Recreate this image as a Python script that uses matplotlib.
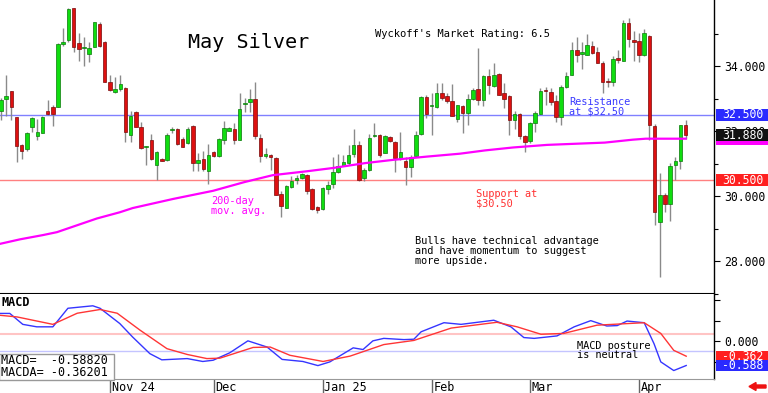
import matplotlib
matplotlib.use('Agg')
import matplotlib.pyplot as plt
import matplotlib.transforms as mtransforms
from matplotlib.patches import Rectangle, FancyArrow

plt.rcParams['font.family'] = ['DejaVu Sans Mono', 'DejaVu Sans']

# ---------------- data ----------------
opens = [32.62, 33.00, 33.22, 32.45, 31.57, 31.44, 32.12, 31.86, 31.95, 32.62,
         32.74, 32.75, 34.69, 34.81, 35.78, 34.71, 34.55, 34.38, 34.60, 35.30,
         34.75, 33.52, 33.19, 33.29, 33.34, 31.87, 32.59, 32.14, 31.50, 31.72,
         30.97, 31.16, 31.12, 32.03, 32.07, 31.75, 31.64, 32.17, 31.02, 31.15,
         30.77, 31.37, 31.25, 31.74, 32.02, 32.06, 31.74, 32.84, 32.89, 32.99,
         31.79, 31.25, 31.28, 31.19, 30.08, 29.65, 30.30, 30.50, 30.56, 30.67,
         30.22, 29.66, 29.62, 30.24, 30.37, 30.74, 30.94, 31.02, 31.31, 31.59,
         30.57, 30.82, 31.86, 31.87, 31.34, 31.82, 31.67, 31.15, 31.09, 30.90,
         31.24, 31.90, 33.04, 32.77, 32.74, 33.17, 33.07, 32.94, 32.39, 32.77,
         32.57, 32.99, 33.30, 32.97, 33.71, 33.39, 33.77, 33.17, 33.07, 32.34,
         32.52, 31.84, 31.69, 32.24, 32.54, 33.26, 33.19, 32.92, 32.45, 33.35,
         33.72, 34.50, 34.38, 34.35, 34.61, 34.43, 34.11, 33.54, 33.52, 34.25,
         34.17, 35.31, 34.81, 34.78, 34.35, 34.93, 32.17, 29.21, 30.05, 29.76,
         30.97, 31.09, 32.19]
highs = [33.02, 33.74, 33.24, 32.45, 31.60, 31.97, 32.44, 32.37, 32.48, 32.97,
         32.82, 34.70, 35.18, 35.78, 35.79, 35.03, 34.90, 34.75, 35.36, 35.36,
         34.76, 33.72, 33.67, 33.74, 33.35, 32.62, 32.62, 32.27, 31.55, 31.92,
         31.38, 31.19, 31.94, 32.12, 32.09, 31.82, 32.12, 32.18, 31.32, 31.40,
         31.60, 31.40, 31.78, 32.30, 32.14, 32.24, 33.17, 33.02, 33.30, 33.50,
         31.91, 31.47, 31.31, 31.22, 30.17, 30.35, 30.62, 30.65, 30.72, 30.68,
         30.27, 29.71, 30.30, 30.47, 31.22, 31.31, 31.28, 31.57, 32.07, 31.70,
         30.87, 31.91, 32.24, 31.91, 31.87, 31.84, 31.69, 31.97, 31.22, 31.27,
         32.02, 33.07, 33.12, 33.17, 33.47, 33.47, 33.17, 33.44, 32.82, 32.82,
         33.14, 33.32, 34.55, 33.72, 33.92, 34.08, 33.80, 33.47, 33.10, 32.62,
         32.57, 31.87, 32.27, 32.62, 33.32, 33.37, 33.32, 33.12, 33.42, 33.83,
         34.73, 34.88, 34.73, 34.98, 34.78, 34.58, 34.17, 33.62, 34.32, 34.48,
         35.41, 35.48, 35.08, 35.03, 35.15, 34.95, 32.22, 30.72, 30.11, 31.02,
         31.22, 32.20, 32.34]
lows = [32.33, 32.48, 32.33, 31.04, 31.14, 31.40, 31.99, 31.72, 31.93, 32.50,
        32.17, 32.73, 34.63, 34.75, 34.43, 34.17, 33.99, 34.13, 34.60, 34.58,
        33.50, 33.24, 33.17, 33.22, 31.67, 31.67, 32.12, 31.46, 30.97, 31.12,
        30.49, 31.07, 31.10, 31.94, 31.58, 31.50, 31.62, 30.77, 30.77, 30.77,
        30.37, 31.22, 31.22, 31.62, 32.01, 31.62, 31.74, 32.59, 32.59, 31.76,
        31.04, 31.17, 30.80, 30.03, 29.38, 29.64, 30.27, 30.39, 30.52, 30.08,
        29.59, 29.50, 29.59, 30.08, 30.27, 30.71, 30.92, 30.97, 31.22, 30.47,
        30.47, 30.77, 31.82, 31.22, 31.32, 31.67, 30.75, 31.12, 30.34, 30.59,
        31.22, 31.89, 32.42, 31.87, 32.72, 32.97, 32.87, 32.46, 32.29, 31.94,
        32.19, 32.97, 32.79, 32.77, 33.15, 33.37, 33.10, 32.70, 31.87, 32.07,
        31.77, 31.37, 31.64, 31.97, 32.52, 32.82, 32.82, 32.27, 32.20, 33.32,
        33.72, 34.13, 33.92, 34.33, 34.38, 34.08, 33.17, 33.37, 33.40, 34.08,
        34.17, 34.58, 34.17, 34.13, 34.31, 31.72, 29.11, 27.51, 29.51, 29.23,
        30.49, 30.84, 31.77]
closes = [32.97, 33.07, 32.74, 31.54, 31.39, 31.94, 32.40, 31.99, 32.45, 32.52,
          32.54, 34.68, 34.73, 35.76, 34.60, 34.53, 34.58, 34.55, 35.36, 34.61,
          33.52, 33.27, 33.30, 33.44, 31.97, 32.47, 32.14, 31.47, 31.54, 31.14,
          31.37, 31.09, 31.89, 32.07, 31.60, 31.52, 32.07, 31.02, 31.12, 30.84,
          31.27, 31.25, 31.77, 32.09, 32.09, 31.74, 32.69, 32.87, 32.99, 31.84,
          31.25, 31.28, 31.22, 30.05, 29.69, 30.32, 30.47, 30.57, 30.69, 30.17,
          29.62, 29.58, 30.27, 30.34, 30.74, 30.94, 31.04, 31.27, 31.57, 30.50,
          30.82, 31.79, 31.89, 31.28, 31.84, 31.69, 31.17, 31.35, 30.90, 31.22,
          31.89, 33.04, 32.52, 32.81, 33.17, 33.02, 32.92, 32.47, 32.79, 32.57,
          32.99, 33.27, 32.97, 33.71, 33.42, 33.74, 33.12, 33.00, 32.34, 32.54,
          31.84, 31.67, 32.24, 32.57, 33.24, 33.22, 32.90, 32.45, 33.37, 33.71,
          34.48, 34.35, 34.43, 34.65, 34.41, 34.11, 33.52, 33.50, 34.23, 34.20,
          35.31, 34.83, 34.75, 34.35, 35.01, 32.20, 29.51, 30.05, 29.76, 30.94,
          31.09, 32.19, 31.88]

ma_idx = [-0.2, 3.7, 8.1, 10.8, 18.5, 22.9, 25.4, 33.2, 40.9, 47.0, 52.4, 59.0,
          64.0, 70.2, 75.6, 82.1, 88.5, 93.3, 98.7, 105.3, 111.6, 116.4, 121.8,
          124.3, 132.0]
ma_val = [28.54, 28.68, 28.81, 28.90, 29.32, 29.51, 29.64, 29.92, 30.17, 30.44,
          30.65, 30.77, 30.87, 31.02, 31.12, 31.22, 31.31, 31.41, 31.50, 31.58,
          31.62, 31.65, 31.74, 31.77, 31.77]

macd_idx = [-0.2, 1.7, 4.2, 6.9, 10.0, 12.9, 17.7, 19.1, 22.9, 25.4, 28.7, 31.0,
            35.9, 38.9, 40.9, 44.1, 47.6, 51.3, 54.2, 58.2, 61.1, 63.4, 67.9,
            69.8, 71.7, 73.8, 77.7, 79.6, 81.0, 85.4, 88.7, 95.0, 98.3, 100.8,
            102.8, 107.2, 110.5, 113.7, 116.8, 118.8, 120.7, 124.0, 125.9,
            127.2, 129.7, 132.1]
macd_val = [0.675, 0.675, 0.41, 0.35, 0.35, 0.80, 0.86, 0.80, 0.43, 0.10, -0.30,
            -0.45, -0.42, -0.49, -0.46, -0.28, 0.01, -0.14, -0.44, -0.49, -0.59,
            -0.50, -0.16, -0.20, 0.01, 0.07, 0.04, 0.05, 0.23, 0.45, 0.41, 0.51,
            0.35, 0.09, 0.07, 0.13, 0.35, 0.50, 0.37, 0.38, 0.49, 0.45, -0.06,
            -0.50, -0.71, -0.588]
macda_idx = [-0.2, 3.1, 10.0, 14.7, 19.1, 22.4, 26.8, 32.0, 35.9, 39.7, 42.2,
             48.6, 51.9, 55.7, 62.1, 67.3, 73.8, 79.6, 86.8, 95.6, 99.5, 104.1,
             108.5, 114.9, 124.0, 127.2, 129.7, 132.1]
macda_val = [0.63, 0.59, 0.41, 0.68, 0.77, 0.68, 0.27, -0.18, -0.32, -0.42, -0.41,
             -0.15, -0.14, -0.34, -0.49, -0.36, -0.08, 0.02, 0.32, 0.46, 0.35,
             0.17, 0.19, 0.39, 0.45, 0.19, -0.22, -0.362]

month_idx = [21, 41, 62, 83, 102, 123]
month_labels = ['Nov 24', 'Dec', 'Jan 25', 'Feb', 'Mar', 'Apr']

price_ticks = [28, 30, 32, 34]
price_tick_labels = ['28.000', '30.000', '32.000', '34.000']
resistance = 32.5
support = 30.5
last_price = 31.88
macd_last = -0.58820
macda_last = -0.36201

# ---------------- figure ----------------
W, H = 768, 393
fig = plt.figure(figsize=(W / 100, H / 100), dpi=100)
XL = (-0.19, 137.46)
LBL = 8.3

ax = fig.add_axes([0, 1 - 294 / H, 714 / W, 294 / H])
axm = fig.add_axes([0, 1 - 379 / H, 714 / W, 85 / H])

# candles
idx = list(range(len(opens)))
GREEN, GREEN_E = '#10dd10', '#0a7a0a'
RED, RED_E = '#dd1010', '#7a0a0a'
ax.vlines(idx, lows, highs, color='#8a8a8a', lw=1.0, zorder=2)
bottoms, heights, fcs, ecs = [], [], [], []
for o, c in zip(opens, closes):
    bottoms.append(min(o, c))
    heights.append(max(abs(c - o), 0.035))
    up = c >= o
    fcs.append(GREEN if up else RED)
    ecs.append(GREEN_E if up else RED_E)
ax.bar(idx, heights, bottom=bottoms, width=0.68, color=fcs, edgecolor=ecs,
       linewidth=0.5, zorder=3)

ax.plot(ma_idx, ma_val, color='#ff00ff', lw=1.6, zorder=4)
ax.axhline(resistance, color='#8080ff', lw=1.0, zorder=1)
ax.axhline(support, color='#ff8080', lw=1.0, zorder=1)

ax.set_xlim(*XL)
ax.set_ylim(27.188, 36.03)
ax.set_xticks([])
ax.yaxis.tick_right()
ax.set_yticks(price_ticks)
ax.set_yticklabels(price_tick_labels)
ax.set_yticks([27, 29, 31, 33, 35], minor=True)
ax.tick_params(axis='y', which='major', direction='out', length=4, width=0.8,
               labelsize=LBL, pad=3.5, colors='black')
ax.tick_params(axis='y', which='minor', direction='out', length=3, width=0.8)
for s in ['top', 'left']:
    ax.spines[s].set_visible(False)
ax.spines['bottom'].set_linewidth(1.5)
ax.spines['right'].set_linewidth(1.0)

# right-hand value boxes (main)
bt = mtransforms.blended_transform_factory(fig.transFigure, ax.transData)
def vbox(axis_tr, y, h, fc, txt, tc='white', z=5):
    r = Rectangle((715.5 / W, y - h / 2), 52.5 / W, h, transform=axis_tr,
                  facecolor=fc, edgecolor='none', clip_on=False, zorder=z)
    fig.add_artist(r)
    if txt:
        fig.text(722.5 / W, y, txt, transform=axis_tr, color=tc, fontsize=LBL,
                 va='center', ha='left', zorder=z + 1)

vbox(bt, resistance, 0.35, '#2a2aff', '32.500')
vbox(bt, ma_val[-1], 0.36, '#ff00ff', '')
vbox(bt, last_price, 0.36, '#111111', '31.880', z=7)
vbox(bt, support, 0.35, '#ff2020', '30.500')

# texts (main)
def ftext(x, y, s, **kw):
    fig.text(x / W, 1 - y / H, s, **kw)

ftext(188, 42, 'May Silver', fontsize=14.5, va='center', ha='left')
ftext(375, 34, "Wyckoff's Market Rating: 6.5", fontsize=7.5, va='center', ha='left')
ftext(569, 106.5, 'Resistance\nat $32.50', fontsize=7.4, color='#3a3aff',
      va='center', ha='left', linespacing=0.95)
ftext(476, 198.5, 'Support at\n$30.50', fontsize=7.4, color='#ff3030',
      va='center', ha='left', linespacing=0.95)
ftext(211, 206, '200-day\nmov. avg.', fontsize=7.4, color='#ff00ff',
      va='center', ha='left', linespacing=0.95)
ftext(415, 251, 'Bulls have technical advantage\nand have momentum to suggest\nmore upside.',
      fontsize=7.4, color='black', va='center', ha='left', linespacing=0.95)

# ---------------- MACD panel ----------------
axm.plot(macd_idx, macd_val, color='#3535ff', lw=1.0, zorder=3)
axm.plot(macda_idx, macda_val, color='#ff3535', lw=1.0, zorder=3)
axm.axhline(0.17, color='#ffc4c4', lw=1.5, zorder=1)
axm.axhline(-0.23, color='#c4c4ff', lw=1.0, zorder=1)
axm.set_xlim(*XL)
axm.set_ylim(-0.915, 1.146)
axm.yaxis.tick_right()
axm.set_yticks([-0.5, 0, 0.5, 1.0])
axm.set_yticklabels(['', '0.000', '', ''])
axm.tick_params(axis='y', direction='out', length=4, width=0.8, labelsize=LBL, pad=3.5)
axm.set_xticks(month_idx)
axm.set_xticklabels([''] * len(month_idx))
axm.tick_params(axis='x', direction='out', length=10.5, width=1.0, color='#666666')
for s in ['top', 'left']:
    axm.spines[s].set_visible(False)
axm.spines['bottom'].set_color('#999999')
axm.spines['right'].set_linewidth(1.0)

for mi, ml in zip(month_idx, month_labels):
    axm.annotate(ml, xy=(mi, 0), xycoords=('data', 'axes fraction'),
                 xytext=(1.3, -5.8), textcoords='offset points',
                 ha='left', va='center', fontsize=8.5)

btm = mtransforms.blended_transform_factory(fig.transFigure, axm.transData)
vbox(btm, macda_last, 0.24, '#ff2020', '-0.362')
vbox(btm, macd_last, 0.26, '#2a2aff', '-0.588', z=7)

axm.text(0.0015, 0.9, 'MACD', transform=axm.transAxes, fontsize=8.5,
         fontweight='bold', va='center', ha='left')
axm.add_patch(Rectangle((-0.002, -0.01), 115 / 714, 0.305, transform=axm.transAxes,
                        facecolor='white', edgecolor='#999999', lw=1.0,
                        zorder=5, clip_on=False))
ftext(1, 361, 'MACD=  %.5f' % macd_last, fontsize=8.5, va='center', ha='left', zorder=6)
ftext(1, 372.7, 'MACDA= %.5f' % macda_last, fontsize=8.5, va='center', ha='left', zorder=6)
ftext(577, 350.5, 'MACD posture\nis neutral', fontsize=7.4, va='center', ha='left',
      linespacing=0.95)

fig.add_artist(FancyArrow(766 / W, 1 - 386.5 / H, -17 / W, 0, width=3 / H,
                          head_width=8 / H, head_length=7 / W, length_includes_head=True,
                          transform=fig.transFigure, color='#ee1111'))

fig.savefig('out.png', dpi=100, facecolor='white')
